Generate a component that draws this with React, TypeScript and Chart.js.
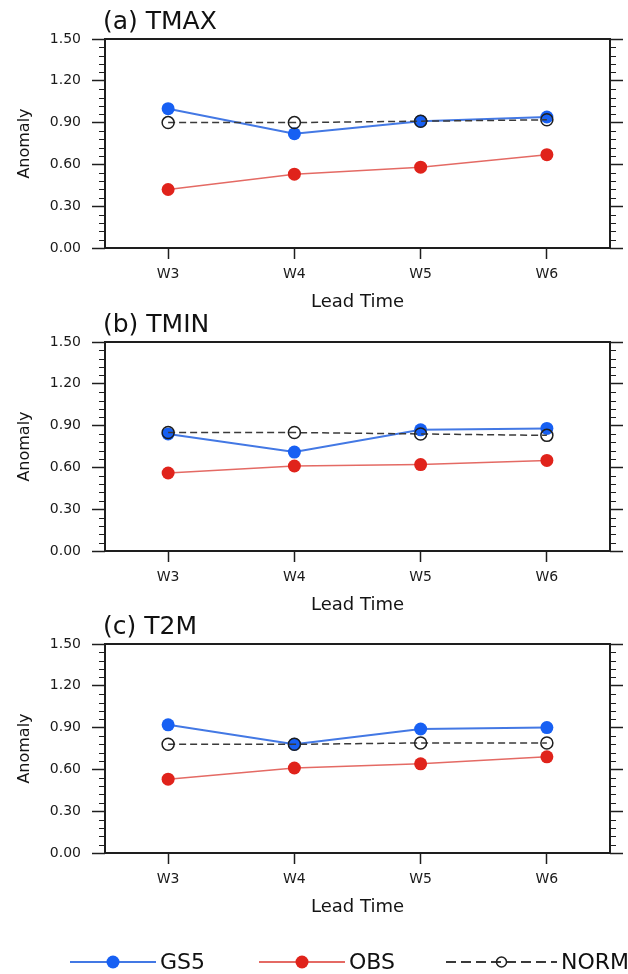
import React, { useEffect, useRef } from "react";
import { Chart, registerables } from "chart.js";

Chart.register(...registerables);

// ---------- data ----------
const leadTimes = ["W3", "W4", "W5", "W6"];
const panelTitles = ["(a) TMAX", "(b) TMIN", "(c) T2M"];
const seriesNames = ["GS5", "OBS", "NORM"];

const tmaxGS5 = [1.0, 0.82, 0.91, 0.94];
const tmaxOBS = [0.42, 0.53, 0.58, 0.67];
const tmaxNORM = [0.9, 0.9, 0.91, 0.92];

const tminGS5 = [0.84, 0.71, 0.87, 0.88];
const tminOBS = [0.56, 0.61, 0.62, 0.65];
const tminNORM = [0.85, 0.85, 0.84, 0.83];

const t2mGS5 = [0.92, 0.78, 0.89, 0.9];
const t2mOBS = [0.53, 0.61, 0.64, 0.69];
const t2mNORM = [0.78, 0.78, 0.79, 0.79];

const yMin = 0;
const yMax = 1.5;
const yMajorStep = 0.3;
const yMinorStep = 0.06;
const yAxisTitle = "Anomaly";
const xAxisTitle = "Lead Time";

// ---------- styles ----------
const FONT = "'DejaVu Sans', Verdana, sans-serif";
const INK = "#1e1e1e";
const GS5_LINE = "#4378e4";
const GS5_DOT = "#1760f3";
const OBS_LINE = "#e46a64";
const OBS_DOT = "#e0231b";
const NORM_LINE = "#3a3a3a";

const framePlugin = {
  id: "frameTicks",
  afterDraw(chart: any) {
    const { ctx, chartArea } = chart;
    const ys = chart.scales.y;
    ctx.save();
    ctx.strokeStyle = INK;
    ctx.lineWidth = 1.2;
    const n = Math.round((yMax - yMin) / yMinorStep);
    for (let i = 0; i <= n; i++) {
      const v = yMin + i * yMinorStep;
      if (Math.abs(v / yMajorStep - Math.round(v / yMajorStep)) < 1e-6) continue;
      const py = Math.round(ys.getPixelForValue(v)) + 0.5;
      ctx.beginPath();
      ctx.moveTo(chartArea.left - 6, py);
      ctx.lineTo(chartArea.left, py);
      ctx.moveTo(chartArea.right, py);
      ctx.lineTo(chartArea.right + 6, py);
      ctx.stroke();
    }
    ctx.lineWidth = 2;
    ctx.strokeRect(chartArea.left, chartArea.top, chartArea.right - chartArea.left, chartArea.bottom - chartArea.top);
    ctx.restore();
  },
};

const titlePlugin = {
  id: "panelTitle",
  afterDraw(chart: any, _args: any, opts: any) {
    const { ctx, chartArea } = chart;
    ctx.save();
    ctx.fillStyle = "#111";
    ctx.font = `25px ${FONT}`;
    ctx.textAlign = "left";
    ctx.textBaseline = "middle";
    ctx.fillText(opts.text, chartArea.left - 2, chartArea.top - 17);
    ctx.restore();
  },
};

const legendPlugin = {
  id: "bottomLegend",
  afterDraw(chart: any, _args: any, opts: any) {
    if (!opts.show) return;
    const { ctx } = chart;
    const y = opts.y;
    const items = [
      { name: seriesNames[0], x0: 70, x1: 156, color: GS5_LINE, dot: GS5_DOT, dash: [] as number[], open: false },
      { name: seriesNames[1], x0: 259, x1: 345, color: OBS_LINE, dot: OBS_DOT, dash: [] as number[], open: false },
      { name: seriesNames[2], x0: 446, x1: 557, color: NORM_LINE, dot: INK, dash: [10, 5], open: true },
    ];
    ctx.save();
    for (const it of items) {
      ctx.strokeStyle = it.color;
      ctx.lineWidth = 2;
      ctx.setLineDash(it.dash);
      ctx.beginPath();
      ctx.moveTo(it.x0, y);
      ctx.lineTo(it.x1, y);
      ctx.stroke();
      ctx.setLineDash([]);
      const cx = (it.x0 + it.x1) / 2;
      ctx.beginPath();
      ctx.arc(cx, y, it.open ? 5 : 6.5, 0, Math.PI * 2);
      if (it.open) {
        ctx.lineWidth = 1.5;
        ctx.strokeStyle = INK;
        ctx.stroke();
      } else {
        ctx.fillStyle = it.dot;
        ctx.fill();
      }
      ctx.fillStyle = "#111";
      ctx.font = `22px ${FONT}`;
      ctx.textAlign = "left";
      ctx.textBaseline = "middle";
      ctx.fillText(it.name, it.x1 + 4, y + 1);
    }
    ctx.restore();
  },
};

type PanelProps = {
  top: number;
  height: number;
  title: string;
  gs5: number[];
  obs: number[];
  norm: number[];
  legend?: boolean;
};

function Panel({ top, height, title, gs5, obs, norm, legend }: PanelProps) {
  const ref = useRef<HTMLCanvasElement>(null);
  useEffect(() => {
    const plotTop = 39;
    const plotH = 209;
    const xAxisH = 72;
    const bottomPad = height - plotTop - plotH - xAxisH;
    const chart = new Chart(ref.current as HTMLCanvasElement, {
      type: "line",
      data: {
        labels: leadTimes,
        datasets: [
          {
            label: seriesNames[0],
            data: gs5,
            borderColor: GS5_LINE,
            borderWidth: 2,
            pointRadius: 6.5,
            pointBackgroundColor: GS5_DOT,
            pointBorderColor: GS5_DOT,
            pointBorderWidth: 0,
            order: 1,
          },
          {
            label: seriesNames[1],
            data: obs,
            borderColor: OBS_LINE,
            borderWidth: 1.5,
            pointRadius: 6.5,
            pointBackgroundColor: OBS_DOT,
            pointBorderColor: OBS_DOT,
            pointBorderWidth: 0,
            order: 2,
          },
          {
            label: seriesNames[2],
            data: norm,
            borderColor: NORM_LINE,
            borderWidth: 1.5,
            borderDash: [7, 4],
            pointRadius: 6,
            pointBackgroundColor: "rgba(0,0,0,0)",
            pointBorderColor: INK,
            pointBorderWidth: 1.5,
            order: 0,
          },
        ],
      },
      options: {
        responsive: false,
        animation: false,
        events: [],
        layout: { padding: { top: plotTop, left: 0, right: 0, bottom: bottomPad } },
        plugins: {
          legend: { display: false },
          tooltip: { enabled: false },
          title: { display: false },
          panelTitle: { text: title },
          bottomLegend: { show: !!legend, y: height - 12 },
        } as any,
        scales: {
          x: {
            type: "category",
            offset: true,
            grid: {
              display: true,
              offset: false,
              drawOnChartArea: false,
              drawTicks: true,
              tickLength: 11,
              tickWidth: 1.5,
              tickColor: INK,
            },
            border: { display: false },
            ticks: { color: "#1a1a1a", font: { family: FONT, size: 14 }, padding: 7 },
            title: {
              display: true,
              text: xAxisTitle,
              color: "#141414",
              font: { family: FONT, size: 18 },
              padding: { top: 0, bottom: 7 },
            },
            afterFit: (s: any) => {
              s.height = xAxisH;
            },
          },
          y: {
            min: yMin,
            max: yMax,
            position: "left",
            grid: {
              drawOnChartArea: false,
              drawTicks: true,
              tickLength: 13,
              tickWidth: 1.5,
              tickColor: INK,
            },
            border: { display: false },
            ticks: {
              stepSize: yMajorStep,
              color: "#1a1a1a",
              font: { family: FONT, size: 14 },
              padding: 11,
              callback: (v: any) => Number(v).toFixed(2),
            },
            title: {
              display: true,
              text: yAxisTitle,
              color: "#141414",
              font: { family: FONT, size: 16 },
              padding: { top: 15, bottom: 0 },
            },
            afterFit: (s: any) => {
              s.width = 105;
            },
          },
          y2: {
            min: yMin,
            max: yMax,
            position: "right",
            grid: {
              drawOnChartArea: false,
              drawTicks: true,
              tickLength: 13,
              tickWidth: 1.5,
              tickColor: INK,
            },
            border: { display: false },
            ticks: { stepSize: yMajorStep, display: false },
            afterFit: (s: any) => {
              s.width = 18;
            },
          },
        } as any,
      },
      plugins: [framePlugin, titlePlugin, legendPlugin],
    });
    return () => chart.destroy();
  }, []);
  return (
    <canvas
      ref={ref}
      width={628}
      height={height}
      style={{ position: "absolute", left: 0, top, width: 628, height }}
    />
  );
}

export default function App() {
  return (
    <div style={{ position: "absolute", left: 0, top: 0, width: 628, height: 974, background: "#fff", overflow: "hidden" }}>
      <Panel top={0} height={320} title={panelTitles[0]} gs5={tmaxGS5} obs={tmaxOBS} norm={tmaxNORM} />
      <Panel top={303} height={320} title={panelTitles[1]} gs5={tminGS5} obs={tminOBS} norm={tminNORM} />
      <Panel top={605} height={369} title={panelTitles[2]} gs5={t2mGS5} obs={t2mOBS} norm={t2mNORM} legend />
    </div>
  );
}
